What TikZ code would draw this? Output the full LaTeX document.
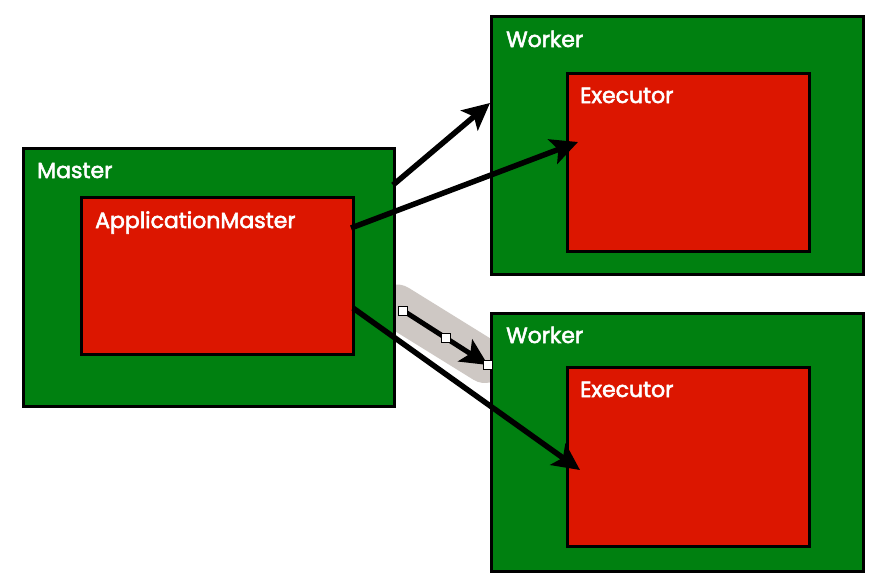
\documentclass[tikz,border=0pt]{standalone}
\usepackage{fontspec}
\setmainfont{Poppins}
\newfontfamily\lblfont[FakeBold=2.5]{Poppins}
\usetikzlibrary{arrows.meta,calc}
\definecolor{boxgreen}{RGB}{0,128,16}
\definecolor{boxred}{RGB}{220,22,0}
\definecolor{selgrey}{RGB}{206,200,196}
\pgfdeclarelayer{background}
\pgfsetlayers{background,main}
\begin{document}
\begin{tikzpicture}[x=1pt,y=-1pt,
  outer/.style={draw=black, line width=3pt, fill=boxgreen, anchor=north west, inner sep=0pt},
  inner/.style={draw=black, line width=3pt, fill=boxred, anchor=north west, inner sep=0pt},
  lbl/.style={text=white, font=\lblfont\fontsize{22}{22}\selectfont, anchor=base west, inner sep=0pt},
  flow/.style={line width=5.5pt, -{Stealth[length=27pt,width=26pt,inset=6pt]}},
  handle/.style={draw=black, fill=white, line width=0.8pt, minimum size=9pt, inner sep=0pt}]
  \useasboundingbox (0,0) rectangle (877,582);

  % containers
  \node[outer, minimum width=371pt, minimum height=258pt] (master) at (22,147) {};
  \node[inner, minimum width=272pt, minimum height=157pt] (am) at (80,196) {};
  \node[outer, minimum width=372pt, minimum height=258pt] (w1) at (490,15) {};
  \node[inner, minimum width=242pt, minimum height=178pt] (ex1) at (566,72) {};
  \node[outer, minimum width=372pt, minimum height=258pt] (w2) at (490,312) {};
  \node[inner, minimum width=242pt, minimum height=179pt] (ex2) at (566,366) {};

  % labels
  \node[lbl] (lmaster) at (37,178) {Master};
  \node[lbl] (lam) at (95,228) {ApplicationMaster};
  \node[lbl] (lw1) at (506,47) {Worker};
  \node[lbl] (lex1) at (580,103) {Executor};
  \node[lbl] (lw2) at (506,343) {Worker};
  \node[lbl] (lex2) at (580,397) {Executor};

  % end points of the selected connector
  \coordinate (selA) at ($(master.east)+(7,33)$);
  \coordinate (selB) at ($(w2.north west)+(-2,53)$);

  % page and selection halo behind the boxes
  \begin{pgfonlayer}{background}
    \fill[white] (0,0) rectangle (877,582);
    \draw[selgrey, line width=44pt, line cap=round] ($(selA)+(-6,-4)$) -- ($(selB)+(-3,-4)$);
  \end{pgfonlayer}

  % connectors
  \draw[flow] ($(master.north east)+(-3,38)$) -- ($(w1.north west)+(0,88)$);
  \draw[flow] ($(am.north east)+(-4,32)$) -- ($(ex1.north west)+(12,70)$);
  \draw[flow] ($(am.south east)+(-2,-48)$) -- ($(ex2.north west)+(14,104)$);
  \draw[flow, line width=5pt] (selA) -- (selB);

  % selection handles
  \node[handle] (h1) at (selA) {};
  \node[handle] (h2) at ($(selA)!0.5!(selB)$) {};
  \node[handle] (h3) at (selB) {};
\end{tikzpicture}
\end{document}
